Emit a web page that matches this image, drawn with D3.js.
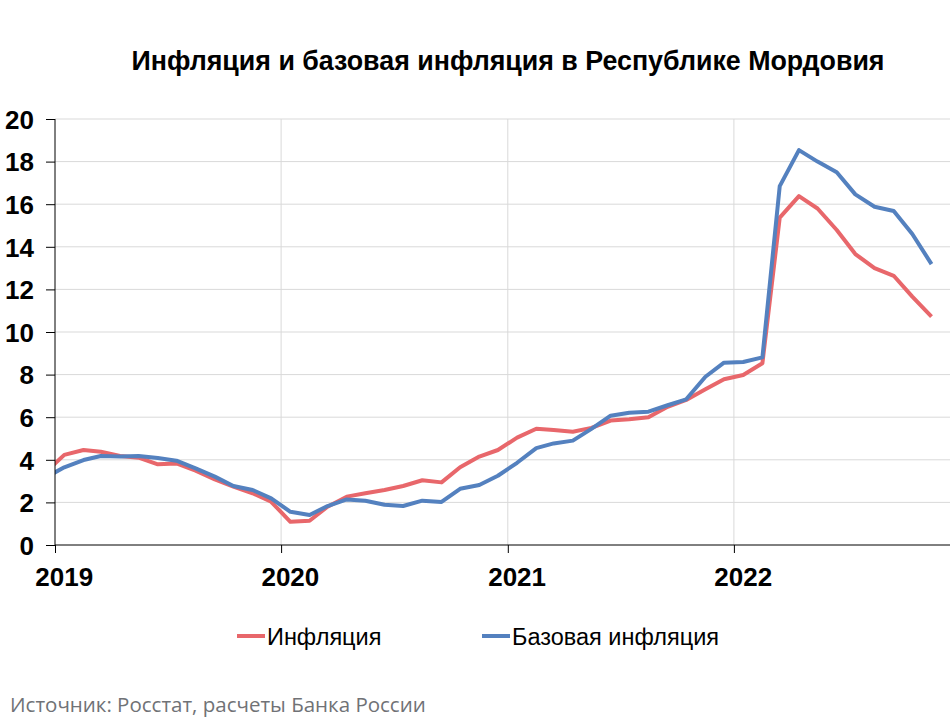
<!DOCTYPE html>
<html>
<head>
<meta charset="utf-8">
<script src="https://cdn.jsdelivr.net/npm/d3@7"></script>
<style>
  body { margin: 0; background: #fff; }
  svg { display: block; }
  .grid line { stroke: #d9d9d9; stroke-width: 1; }
  .axis text { font-family: "Liberation Sans", Arial, sans-serif; font-weight: bold; font-size: 26px; fill: #000; }
  .axis path, .axis line { stroke: #000; }
</style>
</head>
<body>
<div id="chart"></div>
<script>
// months from Dec 2018 to Nov 2022 (first point falls before the axis start and is clipped)
const startMonth = new Date(2018, 11, 16);
const inflation = [
  3.40,
  4.23, 4.46, 4.38, 4.18, 4.10, 3.79, 3.83, 3.49, 3.08, 2.74, 2.43, 2.03,
  1.09, 1.14, 1.80, 2.27, 2.43, 2.58, 2.77, 3.04, 2.94, 3.65, 4.15, 4.46,
  5.04, 5.46, 5.40, 5.32, 5.50, 5.84, 5.90, 6.00, 6.49, 6.81, 7.31, 7.78,
  7.98, 8.53, 15.37, 16.38, 15.80, 14.79, 13.66, 13.00, 12.64, 11.66, 10.72
];
const coreInflation = [
  3.15,
  3.65, 3.99, 4.18, 4.15, 4.18, 4.08, 3.96, 3.60, 3.21, 2.77, 2.58, 2.19,
  1.56, 1.41, 1.83, 2.14, 2.08, 1.89, 1.83, 2.08, 2.02, 2.64, 2.82, 3.25,
  3.86, 4.55, 4.77, 4.90, 5.45, 6.07, 6.21, 6.26, 6.56, 6.84, 7.90, 8.56,
  8.59, 8.81, 16.85, 18.54, 18.00, 17.50, 16.46, 15.88, 15.68, 14.60, 13.19
];
const seriesNames = ['Инфляция', 'Базовая инфляция'];
const seriesColors = ['#e8676b', '#5481bf'];
const yearTicks = [2019, 2020, 2021, 2022];
const yTicks = [0, 2, 4, 6, 8, 10, 12, 14, 16, 18, 20];

const width = 950, height = 720;
const margin = { left: 55, top: 119, bottom: 545 };

const svg = d3.select('#chart').append('svg')
  .attr('width', width)
  .attr('height', height);

const x = d3.scaleTime()
  .domain([new Date(2019, 0, 1), new Date(2023, 0, 1)])
  .range([margin.left, 960]);

const y = d3.scaleLinear()
  .domain([0, 20])
  .range([margin.bottom, margin.top]);

const monthDate = i => d3.timeMonth.offset(startMonth, i);

// gridlines
const grid = svg.append('g').attr('class', 'grid');
grid.selectAll('.hgrid')
  .data(yTicks.slice(1))
  .enter().append('line')
  .attr('x1', margin.left).attr('x2', width)
  .attr('y1', d => y(d)).attr('y2', d => y(d));
grid.selectAll('.vgrid')
  .data(yearTicks.slice(1))
  .enter().append('line')
  .attr('x1', d => x(new Date(d, 0, 1))).attr('x2', d => x(new Date(d, 0, 1)))
  .attr('y1', margin.top).attr('y2', margin.bottom);

// clip to plot area
svg.append('clipPath').attr('id', 'plotClip')
  .append('rect')
  .attr('x', margin.left).attr('y', 0)
  .attr('width', width - margin.left).attr('height', margin.bottom);

const line = d3.line()
  .x((d, i) => x(monthDate(i)))
  .y(d => y(d));

svg.append('g')
  .attr('clip-path', 'url(#plotClip)')
  .selectAll('path')
  .data([inflation, coreInflation])
  .enter().append('path')
  .attr('d', d => line(d))
  .attr('fill', 'none')
  .attr('stroke', (d, i) => seriesColors[i])
  .attr('stroke-width', 4)
  .attr('stroke-linejoin', 'round');

// y axis
const yAxis = svg.append('g')
  .attr('class', 'axis')
  .attr('transform', `translate(${margin.left},0)`)
  .call(d3.axisLeft(y).tickValues(yTicks).tickSize(9).tickPadding(12));
yAxis.select('.domain').attr('d', `M0,${margin.bottom}V${margin.top}`);
yAxis.selectAll('text').attr('dy', '0.36em');

// x axis
const xAxis = svg.append('g')
  .attr('class', 'axis')
  .attr('transform', `translate(0,${margin.bottom})`)
  .call(d3.axisBottom(x)
    .tickValues(yearTicks.map(d => new Date(d, 0, 1)))
    .tickSize(8)
    .tickFormat(''));
xAxis.select('.domain').attr('d', `M${margin.left},0H${width}`);

svg.append('g')
  .attr('class', 'axis')
  .selectAll('text')
  .data(yearTicks)
  .enter().append('text')
  .attr('x', d => x(new Date(d, 0, 16)))
  .attr('y', 586)
  .attr('text-anchor', 'middle')
  .text(d => d);

// title
svg.append('text')
  .attr('x', 508)
  .attr('y', 70)
  .attr('text-anchor', 'middle')
  .style('font-family', '"Liberation Sans", Arial, sans-serif')
  .style('font-weight', 'bold')
  .style('font-size', '26.8px')
  .text('Инфляция и базовая инфляция в Республике Мордовия');

// legend
const legendX = [237, 482];
const legend = svg.append('g')
  .selectAll('g')
  .data(seriesNames)
  .enter().append('g')
  .attr('transform', (d, i) => `translate(${legendX[i]},636)`);
legend.append('line')
  .attr('x1', 0).attr('x2', 28)
  .attr('stroke', (d, i) => seriesColors[i])
  .attr('stroke-width', 4);
legend.append('text')
  .attr('x', 30)
  .attr('y', 9)
  .style('font-family', '"Liberation Sans", Arial, sans-serif')
  .style('font-size', '23.5px')
  .text(d => d);

// source
svg.append('text')
  .attr('x', 10)
  .attr('y', 712)
  .style('font-family', '"Open Sans", "Noto Sans", sans-serif')
  .style('font-size', '20.5px')
  .style('fill', '#707276')
  .text('Источник: Росстат, расчеты Банка России');
</script>
</body>
</html>
